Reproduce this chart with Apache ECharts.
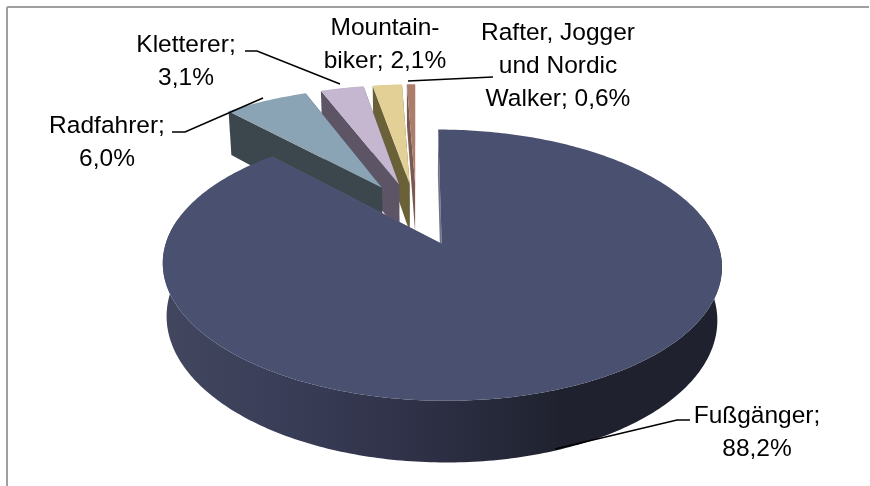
<!DOCTYPE html>
<html>
<head>
<meta charset="utf-8">
<style>
  html, body { margin: 0; padding: 0; background: #fff; }
  #chart { width: 870px; height: 486px; }
</style>
<script src="https://cdn.jsdelivr.net/npm/echarts@6/dist/echarts.min.js"></script>
</head>
<body>
<div id="chart"></div>
<script>
// values
var categories = ['Fußgänger', 'Radfahrer', 'Kletterer', 'Mountainbiker', 'Rafter, Jogger und Nordic Walker']
var shares = [88.2, 6.0, 3.1, 2.1, 0.6]
var labelTexts = ['Fußgänger;\n88,2%', 'Radfahrer;\n6,0%', 'Kletterer;\n3,1%', 'Mountain-\nbiker; 2,1%', 'Rafter, Jogger\nund Nordic\nWalker; 0,6%']

var topColors = ['#4a5070', '#8aa3b5', '#c4b7cf', '#e2d096', '#ad7d6c']
var wallColors = ['#70738a', '#3b464d', '#5d5466', '#6b6138', '#7a5a50']

// perspective of the fake 3D pie (pie radius = 1)
var cx = 416.3
var cy = 213.5
var scaleX = 266
var scaleY = 122.8
var persp = 0.153
var explode = 0.254
var depth = 50
var floorShrink = 0.985

var total = shares.reduce(function (a, b) { return a + b }, 0)
var running = 0
var seriesData = shares.map(function (s) {
  var row = [s, running]
  running += s
  return row
})

function project (api, u, v, low) {
  var w = 1 + persp * v
  var x = u / w
  var y = v / w
  if (low) {
    x = x * floorShrink
    y = y - depth / scaleY / w
  }
  return api.coord([x, y])
}

function renderSlice (params, api) {
  var i = params.dataIndex
  var a0 = api.value(1) / total * Math.PI * 2
  var a1 = (api.value(1) + api.value(0)) / total * Math.PI * 2
  var mid = (a0 + a1) / 2
  var ox = Math.sin(mid) * explode
  var oy = Math.cos(mid) * explode

  var top = [project(api, ox, oy, false)]
  var arcTop = []
  var arcLow = []
  var wallTop = []
  var wallLow = []
  var n = Math.max(4, Math.ceil((a1 - a0) / 0.015))
  for (var k = 0; k <= n; k++) {
    var a = a0 + (a1 - a0) * k / n
    var u = ox + Math.sin(a)
    var v = oy + Math.cos(a)
    var pt = project(api, u, v, false)
    var ptLow = project(api, u, v, true)
    top.push(pt)
    arcTop.push(pt)
    arcLow.push(ptLow)
    // the back of the rim can't be seen
    if (Math.cos(a) < 0.2) {
      wallTop.push(pt)
      wallLow.push(ptLow)
    }
  }
  var apexTop = top[0]
  var apexLow = project(api, ox, oy, true)

  // small slices sit behind the big one
  var rank = shares.length - i
  var kids = [
    { type: 'polygon', z2: rank, shape: { points: [apexTop, arcTop[n], arcLow[n], apexLow] }, style: { fill: wallColors[i] } },
    { type: 'polygon', z2: rank, shape: { points: [apexTop, arcTop[0], arcLow[0], apexLow] }, style: { fill: wallColors[i] } }
  ]
  if (wallTop.length > 1) {
    kids.push({
      type: 'polygon',
      z2: rank,
      shape: { points: wallTop.concat(wallLow.reverse()) },
      style: {
        fill: new echarts.graphic.LinearGradient(0, 0, 1, 0, [
          { offset: 0, color: '#42475f' },
          { offset: 0.2, color: '#3a3e58' },
          { offset: 0.48, color: '#2d3045' },
          { offset: 0.71, color: '#1f222e' },
          { offset: 1, color: '#1f222e' }
        ])
      }
    })
  }
  kids.push({ type: 'polygon', z2: rank, shape: { points: top }, style: { fill: topColors[i] } })
  return { type: 'group', children: kids }
}

function textAt (idx, x, y) {
  return {
    type: 'text',
    x: x,
    y: y,
    z: 10,
    style: {
      text: labelTexts[idx],
      fill: '#000',
      font: '24.5px "Liberation Sans"',
      lineHeight: 33,
      align: 'center',
      verticalAlign: 'middle'
    }
  }
}

function line (points, color, width) {
  return {
    type: 'polyline',
    z: 10,
    shape: { points: points },
    style: { stroke: color, lineWidth: width, fill: 'none' }
  }
}

var option = {
  animation: false,
  backgroundColor: '#fff',
  grid: { left: 0, right: 0, top: 0, bottom: 0 },
  xAxis: { type: 'value', show: false, min: -cx / scaleX, max: (870 - cx) / scaleX },
  yAxis: { type: 'value', show: false, min: -(486 - cy) / scaleY, max: cy / scaleY },
  series: [{
    type: 'custom',
    name: 'Anteil',
    coordinateSystem: 'cartesian2d',
    clip: false,
    renderItem: renderSlice,
    data: seriesData.map(function (row, i) {
      return { name: categories[i], value: row }
    })
  }],
  graphic: [
    line([[7, 7], [869, 7]], '#a0a0a0', 2),
    line([[7, 7], [7, 486]], '#a0a0a0', 2),
    textAt(0, 757, 433),
    textAt(1, 107, 143),
    textAt(2, 186, 62),
    textAt(3, 385, 45),
    textAt(4, 558, 66),
    line([[690, 420], [677, 420], [555, 449]], '#000', 1.5),
    line([[172, 132], [185, 132], [263, 98]], '#000', 1.5),
    line([[245, 51], [257, 51], [340, 84]], '#000', 1.5),
    line([[408, 81], [493, 77]], '#000', 1.5)
  ]
}

var chart = echarts.init(document.getElementById('chart'))
chart.setOption(option)
</script>
</body>
</html>
